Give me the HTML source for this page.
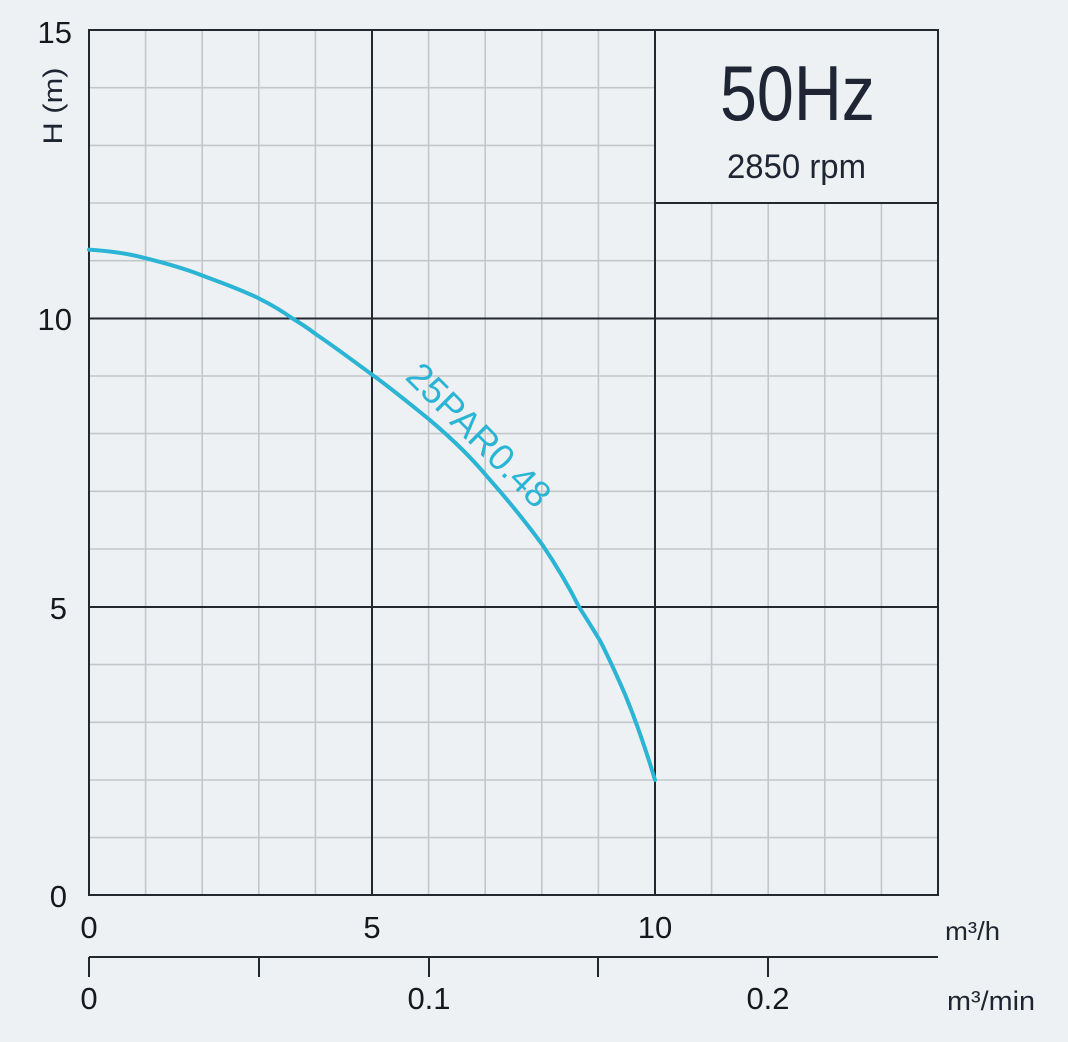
<!DOCTYPE html>
<html><head><meta charset="utf-8"><style>
html,body{margin:0;padding:0;background:#edf1f4;}
svg{display:block;font-family:"Liberation Sans",sans-serif;}
</style></head><body>
<svg width="1068" height="1042" viewBox="0 0 1068 1042" xmlns="http://www.w3.org/2000/svg">
<rect width="1068" height="1042" fill="#edf1f4"/>
<g stroke="#c3c7ca" stroke-width="1.6">
<line x1="145.6" y1="30" x2="145.6" y2="895"/><line x1="202.2" y1="30" x2="202.2" y2="895"/><line x1="258.8" y1="30" x2="258.8" y2="895"/><line x1="315.4" y1="30" x2="315.4" y2="895"/>
<line x1="428.6" y1="30" x2="428.6" y2="895"/><line x1="485.2" y1="30" x2="485.2" y2="895"/><line x1="541.8" y1="30" x2="541.8" y2="895"/><line x1="598.4" y1="30" x2="598.4" y2="895"/>
<line x1="711.6" y1="203" x2="711.6" y2="895"/><line x1="768.2" y1="203" x2="768.2" y2="895"/><line x1="824.8" y1="203" x2="824.8" y2="895"/><line x1="881.4" y1="203" x2="881.4" y2="895"/>
<line x1="89" y1="87.7" x2="655" y2="87.7"/><line x1="89" y1="145.4" x2="655" y2="145.4"/><line x1="89" y1="203" x2="655" y2="203"/><line x1="89" y1="260.7" x2="938" y2="260.7"/>
<line x1="89" y1="376" x2="938" y2="376"/><line x1="89" y1="433.6" x2="938" y2="433.6"/><line x1="89" y1="491.3" x2="938" y2="491.3"/><line x1="89" y1="549" x2="938" y2="549"/>
<line x1="89" y1="664.6" x2="938" y2="664.6"/><line x1="89" y1="722.3" x2="938" y2="722.3"/><line x1="89" y1="780" x2="938" y2="780"/><line x1="89" y1="837.6" x2="938" y2="837.6"/>
</g>
<g stroke="#23282e" stroke-width="2">
<line x1="372" y1="30" x2="372" y2="895"/><line x1="655" y1="30" x2="655" y2="895"/>
<line x1="89" y1="318.5" x2="938" y2="318.5"/><line x1="89" y1="607" x2="938" y2="607"/>
<line x1="655" y1="203" x2="938" y2="203"/>
<rect x="89" y="30" width="849" height="865" fill="none"/>
<line x1="89" y1="957" x2="938" y2="957"/>
<line x1="89" y1="957" x2="89" y2="977"/><line x1="259" y1="957" x2="259" y2="977"/><line x1="429" y1="957" x2="429" y2="977"/><line x1="598" y1="957" x2="598" y2="977"/><line x1="768" y1="957" x2="768" y2="977"/>
</g>
<path fill="none" stroke="#2cb4d5" stroke-width="4" stroke-linecap="round"
d="M89,249.6 C110,251 130,254 144.5,257.9 C165,263 183,268 200,274.6 C222,283 240,289 259,298.5 C271,304.5 282,311 291,317.5 C300,323 308,328 315,333.6 C335,347 352,360 372,374.6 C392,389 410,404 429,419.3 C450,437 470,456 487,476.4 C507,499 525,521 542,544.3 C556,565 568,585 579,606.8 C586,618 593,629 600,640.7 C609,658 617,676 625,694.3 C636,721 646,750 655,780"/>
<text x="0" y="0" transform="translate(404,378) rotate(45)" font-size="37" fill="#2cb4d5">25PAR0.48</text>
<g fill="#15191e" font-size="31">
<text x="72" y="43" text-anchor="end">15</text>
<text x="72" y="330" text-anchor="end">10</text>
<text x="67" y="619" text-anchor="end">5</text>
<text x="67" y="907" text-anchor="end">0</text>
<text x="89" y="938" text-anchor="middle">0</text>
<text x="372" y="938" text-anchor="middle">5</text>
<text x="655" y="938" text-anchor="middle">10</text>
<text x="89" y="1009" text-anchor="middle">0</text>
<text x="429" y="1009" text-anchor="middle">0.1</text>
<text x="768" y="1009" text-anchor="middle">0.2</text>
</g>
<text transform="translate(62,106) rotate(-90)" font-size="27" fill="#1f2530" text-anchor="middle" textLength="77" lengthAdjust="spacingAndGlyphs">H (m)</text>
<text x="945" y="940" font-size="26" fill="#1f2530" textLength="55" lengthAdjust="spacingAndGlyphs">m³/h</text>
<text x="947" y="1010" font-size="27" fill="#1f2530" textLength="88" lengthAdjust="spacingAndGlyphs">m³/min</text>
<text x="720" y="120" font-size="78" fill="#1f2533" textLength="155" lengthAdjust="spacingAndGlyphs">50Hz</text>
<text x="727" y="178" font-size="34" fill="#1f2533" textLength="139" lengthAdjust="spacingAndGlyphs">2850 rpm</text>
</svg>
</body></html>
